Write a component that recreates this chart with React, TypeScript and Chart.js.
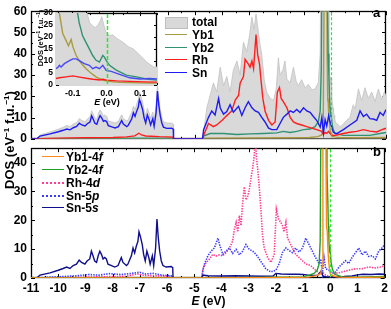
import React, { useEffect, useRef } from 'react';
import { Chart, registerables } from 'chart.js';
Chart.register(...registerables);

const FONT = "'Liberation Sans', Arial, sans-serif";

// ---------- main panels: shared left-band energy grid (eV) ----------
const leftE = [-11, -10.85, -10.79, -10.67, -10.30, -10.00, -9.82, -9.69, -9.57, -9.45, -9.33, -9.23, -9.14, -9.02, -8.94, -8.84, -8.78, -8.72, -8.66, -8.59, -8.53, -8.47, -8.41, -8.35, -8.29, -8.23, -8.17, -8.04, -7.92, -7.80, -7.68, -7.62, -7.49, -7.44, -7.31, -7.25, -7.19, -7.13, -7.07, -7.03, -6.98, -6.91, -6.86, -6.80, -6.74, -6.67, -6.62, -6.54, -6.49, -6.42, -6.37, -6.32, -6.27, -6.21, -6.15, -6.03, -5.85, -5.79, -5.78, -4.76];
const sn5sLeftV = [0, 0, 0, 1.0, 1.8, 2.7, 3.3, 3.8, 3.3, 4.3, 4.8, 6.2, 5.4, 4.8, 5.9, 6.6, 9.3, 7.7, 5.9, 5.4, 7.7, 9.3, 8.2, 6.6, 7.1, 6.6, 4.8, 4.3, 3.8, 4.3, 7.1, 5.4, 4.3, 4.8, 7.7, 10.4, 8.7, 11.0, 12.7, 16.0, 14.4, 11.6, 8.2, 5.9, 9.3, 7.1, 4.8, 7.7, 4.3, 10.4, 20.4, 13.8, 9.3, 5.9, 4.3, 3.8, 4.0, 3.6, 0, 0];
const snLeftV = [0, 0, 0, 1.3, 2.3, 3.3, 4.0, 4.6, 4.2, 5.2, 5.8, 7.3, 6.5, 6.0, 7.1, 7.9, 10.8, 9.2, 7.3, 6.8, 9.2, 10.9, 9.8, 8.2, 8.6, 8.1, 6.2, 5.6, 5.1, 5.7, 8.6, 6.9, 5.7, 6.3, 9.4, 12.2, 10.6, 13.0, 14.9, 18.4, 16.7, 13.6, 10.0, 7.5, 11.2, 8.8, 6.5, 9.4, 5.9, 12.2, 22.4, 15.8, 11.1, 7.4, 5.5, 4.9, 5.0, 4.5, 0, 0];
const totalLeftV = [0, 0, 0, 1.8, 3.2, 4.5, 5.4, 6.2, 5.8, 7.0, 7.6, 9.5, 8.6, 8.0, 9.3, 10.3, 13.2, 11.6, 9.6, 9.2, 11.8, 13.6, 12.4, 10.7, 11.2, 10.6, 8.5, 7.9, 7.4, 8.2, 11.3, 9.5, 8.3, 9.0, 12.4, 15.3, 13.7, 16.3, 18.5, 21.9, 20.2, 17.1, 13.4, 10.8, 14.4, 12.0, 9.6, 12.6, 9.0, 15.2, 25.1, 18.8, 14.0, 10.2, 8.1, 7.4, 7.4, 6.8, 0, 0];

// ---------- panel a (right band) ----------
const totalRightE = [-4.72, -4.68, -4.56, -4.44, -4.32, -4.20, -4.07, -3.95, -3.83, -3.71, -3.59, -3.46, -3.34, -3.22, -3.10, -3.00, -2.91, -2.83, -2.76, -2.67, -2.61, -2.55, -2.46, -2.37, -2.24, -2.12, -2.02, -1.94, -1.88, -1.78, -1.70, -1.63, -1.51, -1.39, -1.29, -1.21, -1.09, -0.96, -0.84, -0.72, -0.60, -0.48, -0.41, -0.37, -0.33, -0.25, -0.20, -0.15, -0.12, -0.09, -0.07, -0.05, -0.04, -0.03, -0.02, -0.01, 0.0, 0.02, 0.04, 0.06, 0.08, 0.10, 0.12, 0.15, 0.20, 0.32, 0.44, 0.56, 0.68, 0.80, 0.87, 0.99, 1.11, 1.23, 1.35, 1.48, 1.60, 1.72, 1.84, 1.94, 2.0];
const totalRightV = [0, 3, 14.6, 20.4, 26.3, 22.0, 33.7, 24.9, 29.3, 22.0, 32.2, 36.6, 30.0, 45.4, 41.0, 48.4, 57.2, 51.3, 58.7, 49.9, 44.0, 39.6, 27.8, 21.9, 19.0, 18.0, 23.4, 38.1, 30.0, 32.2, 36.6, 28.0, 26.3, 33.7, 27.0, 24.9, 27.8, 24.0, 25.6, 23.0, 23.4, 26.3, 40, 120, 250, 350, 300, 200, 60, 36, 32, 26, 25, 25.5, 29, 28, 21.8, 19.5, 16.5, 14.5, 12.5, 11, 9.5, 7.5, 7.2, 5.7, 7.0, 8.7, 10, 16, 14, 23.4, 18, 24, 19, 22, 17.5, 23.4, 18.5, 22, 20.4];

const snRightE = [-4.72, -4.68, -4.50, -4.38, -4.26, -4.13, -4.07, -3.95, -3.83, -3.71, -3.59, -3.40, -3.28, -3.16, -3.04, -2.91, -2.79, -2.67, -2.55, -2.43, -2.30, -2.18, -2.00, -1.88, -1.76, -1.63, -1.51, -1.39, -1.27, -1.15, -1.02, -0.90, -0.78, -0.66, -0.54, -0.41, -0.35, -0.29, -0.23, -0.17, -0.10, -0.05, 0.0, 0.07, 0.15, 0.20, 0.44, 0.68, 0.93, 1.05, 1.17, 1.29, 1.41, 1.54, 1.66, 1.78, 1.90, 2.0];
const snRightV = [0, 4.3, 10.1, 13.1, 11.2, 19.0, 14.5, 11.6, 12.8, 16.0, 12.5, 15.3, 11.0, 14.6, 17.5, 14.6, 13.1, 12.4, 10.1, 7.9, 5.0, 4.3, 4.3, 7.2, 10.1, 11.6, 13.1, 12.4, 13.8, 12.4, 14.6, 13.1, 12.4, 10.5, 8.7, 5.5, 10.1, 2.8, 9.0, 6.0, 10.9, 8.0, 6.0, 3.2, 2.5, 2.5, 4.3, 6.5, 8.7, 13.1, 10.5, 11.6, 9.5, 9.3, 8.7, 12.4, 11.0, 13.8];

const rhE = [-11, -10.8, -10.0, -9.0, -8.0, -7.5, -7.2, -7.05, -6.95, -6.8, -6.6, -6.3, -6.0, -5.8, -5.78, -4.76, -4.72, -4.68, -4.50, -4.32, -4.20, -4.00, -3.83, -3.65, -3.52, -3.40, -3.34, -3.22, -3.16, -3.04, -2.98, -2.91, -2.85, -2.76, -2.70, -2.63, -2.59, -2.51, -2.43, -2.30, -2.18, -2.06, -1.98, -1.90, -1.84, -1.76, -1.63, -1.51, -1.39, -1.27, -1.09, -0.90, -0.72, -0.54, -0.35, -0.29, -0.23, -0.17, -0.10, -0.05, 0.0, 0.07, 0.20, 0.44, 0.68, 0.93, 1.17, 1.41, 1.66, 1.90, 2.0];
const rhV = [0, 0, 0.3, 0.5, 0.6, 0.9, 1.4, 2.6, 1.8, 1.3, 1.2, 1.0, 0.9, 0.8, 0, 0, 0, 1.5, 7.2, 5.7, 6.5, 8.7, 10.9, 13.1, 18.2, 20.4, 26.3, 29.3, 37.4, 35.1, 33.7, 36.6, 33.0, 49.0, 39.6, 35.0, 29.3, 19.0, 13.1, 8.7, 6.5, 7.9, 21.9, 24.1, 19.0, 17.5, 14.6, 10.1, 7.9, 7.2, 6.5, 5.7, 5.0, 4.3, 3.5, 2.0, 3.0, 2.6, 3.5, 2.5, 2.0, 1.5, 1.8, 2.5, 3.1, 3.5, 4.3, 3.6, 3.2, 4.5, 5.0];

const yb2E = [-11, -10.8, -9, -7, -5.8, -5.78, -4.76, -4.72, -4.68, -4.44, -3.95, -3.46, -2.98, -2.49, -2.00, -1.76, -1.51, -1.27, -1.02, -0.78, -0.60, -0.48, -0.41, -0.37, -0.34, -0.32, -0.29, -0.25, -0.20, -0.15, -0.12, -0.09, -0.07, -0.05, -0.03, -0.01, 0.0, 0.03, 0.07, 0.12, 0.20, 0.44, 0.93, 1.41, 1.78, 2.0];
const yb2V = [0, 0, 0.2, 0.3, 0.3, 0, 0, 0, 1.3, 2.5, 2.5, 2.0, 2.3, 2.5, 2.8, 3.5, 3.0, 3.5, 4.3, 4.6, 5.7, 7.9, 13.0, 33.0, 90, 140, 150, 140, 120, 70, 40, 30, 20, 15, 10.2, 12.3, 10.2, 6.5, 4.3, 2.8, 2.3, 1.6, 1.6, 1.6, 2.5, 3.0];

const yb1E = [-11, -10.8, -8, -5.8, -5.78, -4.76, -4.72, -4.68, -3, -1.5, -0.8, -0.5, -0.35, -0.30, -0.27, -0.24, -0.20, -0.17, -0.155, -0.145, -0.135, -0.125, -0.115, -0.105, -0.095, -0.075, -0.055, -0.035, -0.012, 0.01, 0.04, 0.08, 0.15, 0.3, 1.0, 2.0];
const yb1V = [0, 0, 0.1, 0.1, 0, 0, 0, 0.3, 0.4, 0.5, 0.6, 1.0, 1.8, 5, 60, 150, 200, 100, 40, 30, 21, 18.4, 17, 19, 12.3, 8.2, 5.5, 3.4, 2.0, 1.5, 1.2, 1.0, 0.8, 0.6, 0.5, 0.6];

// ---------- panel b ----------
const sn5sRightE = [-4.72, -4.68, -4.5, -4.0, -3.5, -3.0, -2.5, -2.1, -2.0, -1.8, -1.5, -1.2, -1.0, -0.8, -0.6, -0.45, -0.33, -0.29, -0.25, -0.15, 0, 0.2, 0.5, 0.8, 1.0, 1.2, 1.5, 1.8, 2.0];
const sn5sRightV = [0, 1.0, 0.8, 0.7, 0.8, 0.7, 0.6, 0.7, 1.6, 1.4, 1.3, 1.3, 1.2, 1.0, 0.9, 1.0, 2.5, 1.2, 0.6, 0.4, 0.4, 0.4, 0.5, 0.7, 1.1, 1.3, 1.2, 1.4, 1.3];

const sn5pE = [-11, -10.8, -10.3, -9.8, -9.3, -8.9, -8.5, -8.1, -7.7, -7.3, -7.0, -6.8, -6.5, -6.2, -5.9, -5.79, -5.78, -4.76, -4.72, -4.68, -4.62, -4.50, -4.38, -4.26, -4.13, -4.07, -3.95, -3.83, -3.71, -3.59, -3.46, -3.34, -3.22, -3.10, -2.98, -2.85, -2.73, -2.61, -2.49, -2.37, -2.18, -2.00, -1.88, -1.76, -1.63, -1.51, -1.39, -1.27, -1.15, -1.02, -0.90, -0.78, -0.66, -0.54, -0.41, -0.35, -0.29, -0.23, -0.17, -0.05, 0.07, 0.20, 0.32, 0.44, 0.56, 0.68, 0.80, 0.93, 1.05, 1.17, 1.29, 1.41, 1.54, 1.66, 1.78, 1.90, 2.0];
const sn5pV = [0, 0, 0.3, 0.5, 0.8, 1.2, 1.0, 1.5, 1.2, 1.6, 2.0, 1.4, 1.6, 1.0, 0.8, 0.7, 0, 0, 0, 2.7, 4.9, 7.7, 9.3, 10.4, 13.8, 11.6, 8.2, 9.3, 10.4, 8.5, 9.9, 8.0, 9.3, 11.6, 10.0, 9.3, 8.2, 6.6, 4.9, 3.2, 2.1, 2.7, 4.9, 8.8, 10.4, 9.5, 8.8, 10.4, 9.0, 10.4, 13.8, 11.6, 9.3, 7.1, 4.9, 6.6, 1.6, 7.1, 3.2, 2.7, 1.6, 2.1, 3.8, 4.9, 6.0, 5.0, 7.1, 8.8, 10.4, 8.0, 9.3, 7.5, 7.7, 6.6, 9.3, 10.4, 11.6];

const rh4dE = [-11, -10.8, -9.5, -8.5, -7.5, -7.1, -7.0, -6.8, -6.5, -6.0, -5.79, -5.78, -4.76, -4.72, -4.68, -4.56, -4.44, -4.32, -4.20, -4.07, -3.95, -3.83, -3.71, -3.59, -3.52, -3.46, -3.40, -3.34, -3.28, -3.22, -3.16, -3.10, -3.04, -2.98, -2.91, -2.85, -2.79, -2.76, -2.71, -2.65, -2.61, -2.55, -2.49, -2.43, -2.30, -2.18, -2.06, -1.98, -1.90, -1.82, -1.76, -1.70, -1.63, -1.57, -1.51, -1.39, -1.27, -1.09, -0.90, -0.72, -0.54, -0.41, -0.29, -0.17, 0.01, 0.20, 0.44, 0.68, 0.93, 1.17, 1.41, 1.66, 1.84, 2.0];
const rh4dV = [0, 0, 0.2, 0.4, 0.6, 1.4, 1.2, 0.9, 0.8, 0.6, 0.5, 0, 0, 0, 3.2, 5.4, 6.6, 8.2, 7.6, 8.0, 7.7, 8.8, 10.4, 12.7, 17.1, 19.3, 16.0, 21.6, 18.2, 26.0, 31.6, 27.1, 28.2, 30.4, 34.9, 38.2, 42.7, 50, 41.6, 36.0, 31.6, 23.8, 14.9, 10.4, 7.1, 5.4, 8.2, 23.8, 20.4, 19.3, 18.2, 16.0, 19.3, 13.8, 12.7, 10.4, 8.2, 6.6, 4.9, 4.3, 2.7, 1.6, 2.1, 1.0, 0.4, 1.6, 2.1, 2.7, 3.2, 3.2, 3.8, 3.5, 3.8, 4.3];

const yb1fE = [-11, -4.72, -3, -1.5, -0.8, -0.5, -0.35, -0.30, -0.27, -0.24, -0.20, -0.17, -0.155, -0.145, -0.13, -0.11, -0.09, -0.07, -0.05, -0.03, 0, 0.05, 0.15, 0.3, 1.0, 2.0];
const yb1fV = [0, 0, 0.1, 0.2, 0.3, 0.8, 1.5, 4, 55, 140, 190, 95, 38, 28, 18, 16, 11, 7.5, 5, 3, 1.5, 1.0, 0.6, 0.3, 0.2, 0.3];

const yb2fE = [-11, -4.72, -3, -2, -1.0, -0.78, -0.6, -0.48, -0.41, -0.37, -0.34, -0.32, -0.29, -0.25, -0.20, -0.15, -0.12, -0.09, -0.07, -0.05, -0.03, -0.01, 0.0, 0.03, 0.07, 0.12, 0.2, 0.44, 1.0, 2.0];
const yb2fV = [0, 0, 0.2, 0.3, 0.4, 1.0, 1.6, 2.7, 4.9, 12.7, 60, 130, 140, 130, 110, 65, 37, 27, 18, 13, 9, 11, 9, 5.5, 3.5, 2, 1.2, 0.4, 0.3, 0.5];

// ---------- inset (near E_F) ----------
const inTotE = [-0.155, -0.10, -0.07, -0.058, -0.05, -0.04, -0.033, -0.025, -0.018, -0.014, -0.008, -0.001, 0.01, 0.018, 0.03, 0.05, 0.065, 0.08, 0.10, 0.12, 0.14, 0.155];
const inTotV = [50, 45, 34, 30, 26, 24.5, 24, 25, 27, 28.5, 25, 21.8, 20.5, 21, 19.5, 17.7, 16, 15, 12.3, 9.5, 7.5, 7.5];
const inYb1E = [-0.155, -0.14, -0.13, -0.12, -0.113, -0.105, -0.10, -0.09, -0.08, -0.07, -0.06, -0.05, -0.04, -0.03, -0.02, -0.01, 0.0, 0.02, 0.04, 0.07, 0.10, 0.13, 0.155];
const inYb1V = [42, 30, 21.5, 18.5, 16.4, 19.0, 16.0, 12.3, 10.0, 8.2, 6.7, 5.4, 4.3, 3.3, 2.6, 2.0, 1.7, 1.3, 1.1, 1.0, 0.9, 0.8, 0.8];
const inYb2E = [-0.12, -0.10, -0.086, -0.081, -0.071, -0.061, -0.051, -0.041, -0.031, -0.021, -0.011, -0.006, -0.001, 0.009, 0.029, 0.059, 0.089, 0.118, 0.155];
const inYb2V = [70, 40, 30, 25.9, 20.5, 17.8, 15.1, 12.3, 10.3, 9.6, 12.3, 11.6, 10.3, 8.2, 6.2, 4.1, 3.4, 2.5, 2.0];
const inRhE = [-0.155, -0.14, -0.12, -0.10, -0.08, -0.06, -0.04, -0.02, -0.01, 0.0, 0.03, 0.07, 0.11, 0.155];
const inRhV = [2.6, 3.0, 3.4, 3.8, 3.3, 2.8, 2.4, 2.1, 2.4, 2.0, 1.7, 1.5, 1.3, 1.2];
const inSnE = [-0.155, -0.145, -0.14, -0.135, -0.125, -0.11, -0.10, -0.09, -0.081, -0.066, -0.051, -0.041, -0.031, -0.021, -0.011, -0.001, 0.014, 0.039, 0.069, 0.099, 0.128, 0.155];
const inSnV = [6.5, 7.2, 8.2, 7.5, 8.9, 10.2, 10.9, 10.9, 10.2, 8.9, 8.2, 6.8, 7.5, 6.8, 8.2, 6.1, 5.7, 4.4, 3.0, 2.5, 2.7, 2.5];

const topTicks = [0, 10, 20, 30, 40, 50, 60];
const botTicks = [0, 10, 20, 30, 40];
const insetYTicks = [0, 5, 10, 15, 20, 25, 30];
const insetXTicks = [-0.1, 0, 0.1];

const C = {
  total: '#d9d9d9', totalEdge: '#c6c6c6', yb1: '#a99b3e', yb2: '#2f9272', rh: '#ff1e1e', sn: '#1c1cf2',
  yb1f: '#ff8a1c', yb2f: '#1f9e2a', rh4d: '#ff3c8e', sn5p: '#3c3cff', sn5s: '#10108c', fermi: '#2ee62e',
};

function pts(E: number[], V: number[]) {
  return E.map((x, i) => ({ x, y: V[i] }));
}

function ds(label: string, data: any[], color: string, order: number, dash: number[] = [], width = 1.4) {
  return { label, data, borderColor: color, backgroundColor: color, borderWidth: width, borderDash: dash, pointRadius: 0, fill: false, tension: 0, order, borderCapStyle: 'butt' };
}

const framePlugin = {
  id: 'frame',
  beforeDatasetsDraw(chart: any, _a: any, o: any) {
    const { ctx, chartArea: a, scales } = chart;
    const xs = scales.x, ys = scales.y;
    ctx.save();
    ctx.strokeStyle = '#000';
    ctx.lineWidth = 1;
    ctx.beginPath();
    const nx = Math.round((xs.max - xs.min) / o.xStep);
    for (let i = 0; i <= nx; i++) {
      const v = xs.min + i * o.xStep;
      const r = v / o.xMajor;
      const len = Math.abs(r - Math.round(r)) < 1e-6 ? o.major : o.minor;
      const p = Math.round(xs.getPixelForValue(v)) + 0.5;
      ctx.moveTo(p, a.bottom); ctx.lineTo(p, a.bottom - len);
      ctx.moveTo(p, a.top); ctx.lineTo(p, a.top + len);
    }
    const ny = Math.round((ys.max - ys.min) / o.yStep);
    for (let i = 0; i <= ny; i++) {
      const v = ys.min + i * o.yStep;
      const r = v / o.yMajor;
      const len = Math.abs(r - Math.round(r)) < 1e-6 ? o.major : o.minor;
      const p = Math.round(ys.getPixelForValue(v)) + 0.5;
      ctx.moveTo(a.left, p); ctx.lineTo(a.left + len, p);
      ctx.moveTo(a.right, p); ctx.lineTo(a.right - len, p);
    }
    ctx.stroke();
    ctx.lineWidth = 1.3;
    ctx.strokeRect(Math.round(a.left) + 0.5, Math.round(a.top) + 0.5, Math.round(a.right) - Math.round(a.left) - 1, Math.round(a.bottom) - Math.round(a.top) - 1);
    ctx.restore();
  },
  afterDatasetsDraw(chart: any, _a: any, o: any) {
    const { ctx, chartArea: a, scales } = chart;
    const x0 = Math.round(scales.x.getPixelForValue(0)) + 0.5;
    ctx.save();
    ctx.strokeStyle = C.fermi;
    ctx.lineWidth = o.fermiWidth;
    ctx.setLineDash(o.fermiDash);
    ctx.beginPath();
    ctx.moveTo(x0, a.top + 1);
    ctx.lineTo(x0, a.bottom - 1);
    ctx.stroke();
    ctx.restore();
  },
};

function yAxis(min: number, max: number, ticks: number[], width: number, size: number, pad: number) {
  return {
    min, max,
    afterBuildTicks: (s: any) => { s.ticks = ticks.map((v) => ({ value: v })); },
    ticks: { font: { family: FONT, size, weight: 'bold' }, color: '#000', padding: pad, autoSkip: false },
    grid: { display: false, drawTicks: false },
    border: { display: false },
    afterFit: (s: any) => { s.width = width; },
  };
}

function baseOptions(padding: any, scales: any, frame: any) {
  return {
    animation: false,
    responsive: false,
    maintainAspectRatio: false,
    events: [],
    layout: { padding },
    plugins: { legend: { display: false }, tooltip: { enabled: false }, frame },
    scales,
  };
}

const lbl: any = { position: 'absolute', fontFamily: FONT, fontWeight: 'bold', color: '#000', whiteSpace: 'nowrap' };
const sup: any = { fontSize: '0.62em', verticalAlign: 'super', lineHeight: 0 };

function Row({ x, y, color, dash, text, textX }: any) {
  return (
    <>
      <div style={{ position: 'absolute', left: x, top: y - 1, width: 22, height: 0, borderTop: `${dash ? 2 : 1.5}px ${dash ? 'dotted' : 'solid'} ${color}` }} />
      <div style={{ ...lbl, left: textX, top: y - 8, height: 16, lineHeight: '16px', fontSize: 12 }}>{text}</div>
    </>
  );
}

export default function App() {
  const topRef = useRef<HTMLCanvasElement>(null);
  const botRef = useRef<HTMLCanvasElement>(null);
  const insRef = useRef<HTMLCanvasElement>(null);

  useEffect(() => {
    const charts: Chart[] = [];
    const mainFrame = { xStep: 0.5, xMajor: 1, yStep: 5, yMajor: 10, major: 4, minor: 2, fermiWidth: 1.2, fermiDash: [3, 2] };

    charts.push(new Chart(topRef.current as HTMLCanvasElement, {
      type: 'line',
      data: {
        datasets: [
          { ...ds('total', pts([...leftE, ...totalRightE], [...totalLeftV, ...totalRightV]), C.totalEdge, 9, [], 0.9), fill: 'origin', backgroundColor: C.total },
          ds('Yb1', pts(yb1E, yb1V), C.yb1, 4),
          ds('Yb2', pts(yb2E, yb2V), C.yb2, 3),
          ds('Rh', pts(rhE, rhV), C.rh, 2),
          ds('Sn', pts([...leftE, ...snRightE], [...snLeftV, ...snRightV]), C.sn, 1),
        ],
      },
      options: baseOptions({ top: 6, right: 5, bottom: 7, left: 0 }, {
        x: { type: 'linear', min: -11, max: 2, display: false },
        y: yAxis(0, 60, topTicks, 31, 12, 4),
      }, mainFrame) as any,
      plugins: [framePlugin],
    } as any));

    charts.push(new Chart(botRef.current as HTMLCanvasElement, {
      type: 'line',
      data: {
        datasets: [
          ds('Rh-4d', pts(rh4dE, rh4dV), C.rh4d, 5, [1.4, 1.2], 1.6),
          ds('Sn-5p', pts(sn5pE, sn5pV), C.sn5p, 4, [1.4, 1.2], 1.6),
          ds('Sn-5s', pts([...leftE, ...sn5sRightE], [...sn5sLeftV, ...sn5sRightV]), C.sn5s, 3),
          ds('Yb2-4f', pts(yb2fE, yb2fV), C.yb2f, 2),
          ds('Yb1-4f', pts(yb1fE, yb1fV), C.yb1f, 1),
        ],
      },
      options: baseOptions({ top: 6, right: 5, bottom: 0, left: 0 }, {
        x: {
          type: 'linear', min: -11, max: 2,
          afterBuildTicks: (s: any) => { const t = []; for (let v = -11; v <= 2; v++) t.push({ value: v }); s.ticks = t; },
          ticks: { font: { family: FONT, size: 12, weight: 'bold' }, color: '#000', padding: 3, autoSkip: false, maxRotation: 0 },
          grid: { display: false, drawTicks: false },
          border: { display: false },
          afterFit: (s: any) => { s.height = 31; },
        },
        y: yAxis(0, 45, botTicks, 31, 12, 4),
      }, mainFrame) as any,
      plugins: [framePlugin],
    } as any));

    charts.push(new Chart(insRef.current as HTMLCanvasElement, {
      type: 'line',
      data: {
        datasets: [
          { ...ds('total', pts(inTotE, inTotV), C.totalEdge, 9, [], 0.9), fill: 'origin', backgroundColor: C.total },
          ds('Yb1', pts(inYb1E, inYb1V), C.yb1, 4),
          ds('Yb2', pts(inYb2E, inYb2V), C.yb2, 3),
          ds('Rh', pts(inRhE, inRhV), C.rh, 2),
          ds('Sn', pts(inSnE, inSnV), '#4848f4', 1),
        ],
      },
      options: baseOptions({ top: 7, right: 8, bottom: 0, left: 0 }, {
        x: {
          type: 'linear', min: -0.15, max: 0.15,
          afterBuildTicks: (s: any) => { s.ticks = insetXTicks.map((v) => ({ value: v })); },
          ticks: { font: { family: FONT, size: 9, weight: 'bold' }, color: '#000', padding: 3, autoSkip: false, maxRotation: 0, callback: (v: any) => Number(v).toFixed(1) },
          grid: { display: false, drawTicks: false },
          border: { display: false },
          afterFit: (s: any) => { s.height = 25; },
        },
        y: yAxis(0, 30, insetYTicks, 26, 8.5, 3),
      }, { xStep: 0.05, xMajor: 0.1, yStep: 5, yMajor: 5, major: 3, minor: 2, fermiWidth: 1.5, fermiDash: [4, 2] }) as any,
      plugins: [framePlugin],
    } as any));

    return () => charts.forEach((c) => c.destroy());
  }, []);

  const topRows = [
    { color: C.yb1, text: 'Yb1' },
    { color: C.yb2, text: 'Yb2' },
    { color: C.rh, text: 'Rh' },
    { color: C.sn, text: 'Sn' },
  ];
  const botRows = [
    { color: C.yb1f, text: <>Yb1-4<i>f</i></> },
    { color: C.yb2f, text: <>Yb2-4<i>f</i></> },
    { color: C.rh4d, dash: true, text: <>Rh-4<i>d</i></> },
    { color: C.sn5p, dash: true, text: <>Sn-5<i>p</i></> },
    { color: C.sn5s, text: <>Sn-5<i>s</i></> },
  ];

  return (
    <div style={{ position: 'absolute', left: 0, top: 0, width: 391, height: 309, background: '#fff', overflow: 'hidden' }}>
      <canvas ref={topRef} width={391} height={150} style={{ position: 'absolute', left: 0, top: 0, width: 391, height: 150 }} />
      <canvas ref={botRef} width={391} height={172} style={{ position: 'absolute', left: 0, top: 137, width: 391, height: 172 }} />
      <canvas ref={insRef} width={135} height={105} style={{ position: 'absolute', left: 30, top: 5, width: 135, height: 105 }} />

      {/* top legend */}
      <div style={{ position: 'absolute', left: 165, top: 17, width: 21, height: 10, background: C.total, border: '1px solid #bdbdbd' }} />
      <div style={{ ...lbl, left: 192, top: 14, height: 16, lineHeight: '16px', fontSize: 12 }}>total</div>
      {topRows.map((r, i) => (
        <Row key={i} x={165} y={35 + i * 12.6} color={r.color} text={r.text} textX={192} />
      ))}

      {/* bottom legend */}
      {botRows.map((r, i) => (
        <Row key={i} x={42} y={157 + i * 12.85} color={r.color} dash={r.dash} text={r.text} textX={66} />
      ))}

      {/* panel letters */}
      <div style={{ ...lbl, left: 373, top: 5, fontSize: 13, lineHeight: '16px' }}>a</div>
      <div style={{ ...lbl, left: 373, top: 144, fontSize: 13, lineHeight: '16px' }}>b</div>

      {/* axis titles */}
      <div style={{ ...lbl, left: 208.5 - 40, top: 293, width: 80, textAlign: 'center', fontSize: 12, lineHeight: '16px' }}><i>E</i> (eV)</div>
      <div style={{ ...lbl, left: 10 - 70, top: 140 - 8, width: 140, height: 16, lineHeight: '16px', textAlign: 'center', fontSize: 13, transform: 'rotate(-90deg)' }}>
        DOS (eV<span style={sup}>−1</span> f.u.<span style={sup}>−1</span>)
      </div>
      {/* inset titles */}
      <div style={{ ...lbl, left: 107 - 30, top: 96, width: 60, textAlign: 'center', fontSize: 9, lineHeight: '12px' }}><i>E</i> (eV)</div>
      <div style={{ ...lbl, left: 41 - 40, top: 38 - 5, width: 80, height: 10, lineHeight: '10px', textAlign: 'center', fontSize: 7.5, transform: 'rotate(-90deg)' }}>
        DOS (eV<span style={sup}>−1</span> f.u.<span style={sup}>−1</span>)
      </div>
    </div>
  );
}
